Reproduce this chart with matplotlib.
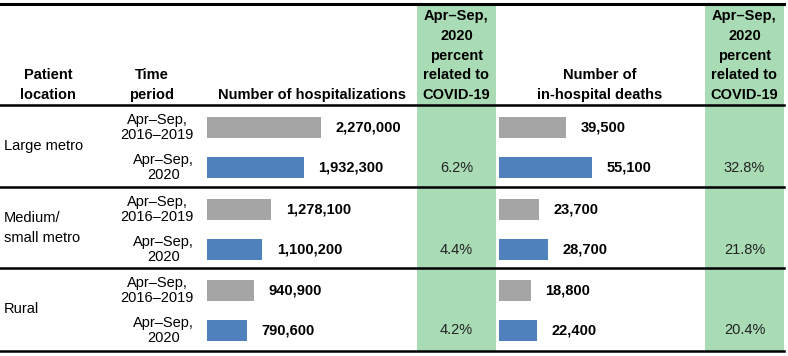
import matplotlib
matplotlib.use("Agg")
from matplotlib import pyplot as plt
from matplotlib.patches import Rectangle

plt.rcParams['font.family'] = ['Liberation Sans', 'DejaVu Sans']

# data
locations = ["Large metro", "Medium/\nsmall metro", "Rural"]
periods = ["Apr\u2013Sep,\n2016\u20132019", "Apr\u2013Sep,\n2020"]
hosp_base = [2270000, 1278100, 940900]
hosp_2020 = [1932300, 1100200, 790600]
deaths_base = [39500, 23700, 18800]
deaths_2020 = [55100, 28700, 22400]
pct_hosp = ["6.2%", "4.4%", "4.2%"]
pct_deaths = ["32.8%", "21.8%", "20.4%"]

GRAY = "#A5A5A5"
BLUE = "#4F81BD"
GREEN = "#A9DCB5"
FS = 10.5

W, H = 788, 356
fig = plt.figure(figsize=(W / 100, H / 100), dpi=100)

# background axes in pixel coordinates for the table frame
bg = fig.add_axes([0, 0, 1, 1])
bg.set_xlim(0, W)
bg.set_ylim(H, 0)
bg.axis("off")

row_tops = [105, 187, 268]
row_bot = 351

# green columns
for x0, x1 in [(417, 496), (705, 784)]:
    bg.add_patch(Rectangle((x0, 5), x1 - x0, row_bot - 5, color=GREEN, lw=0, zorder=0))

# rules
bg.plot([0, 784], [4, 4], color="black", lw=2.2, zorder=3)
for y in row_tops + [row_bot]:
    bg.plot([0, 784], [y, y], color="black", lw=1.8, zorder=3)

# headers
hdr = dict(fontsize=FS, fontweight="bold", ha="center", va="bottom", linespacing=1.52)
bg.text(48, 102, "Patient\nlocation", **hdr)
bg.text(152, 102, "Time\nperiod", **hdr)
bg.text(312, 102, "Number of hospitalizations", **hdr)
bg.text(600, 102, "Number of\nin-hospital deaths", **hdr)
green_hdr = "Apr\u2013Sep,\n2020\npercent\nrelated to\nCOVID-19"
bg.text(456.5, 102, green_hdr, **hdr)
bg.text(744.5, 102, green_hdr, **hdr)

# row labels, period labels, percents
for i, top in enumerate(row_tops):
    bg.text(4, top + 41, locations[i], fontsize=FS, ha="left", va="center", linespacing=1.5)
    for j, yoff in enumerate([22.5, 62.5]):
        bg.text(194, top + yoff, periods[j], fontsize=FS, ha="right", va="center",
                multialignment="center", linespacing=1.15)
    bg.text(456.5, top + 62.5, pct_hosp[i], fontsize=FS, ha="center", va="center", color="#222222")
    bg.text(744.5, top + 62.5, pct_deaths[i], fontsize=FS, ha="center", va="center", color="#222222")


def bar_panel(x0, x1, xmax, base, cur):
    ax = fig.add_axes([x0 / W, 1 - row_bot / H, (x1 - x0) / W, (row_bot - row_tops[0]) / H])
    ax.set_xlim(0, xmax)
    ax.set_ylim(row_bot - row_tops[0], 0)
    ax.axis("off")
    ax.patch.set_alpha(0)
    for i, top in enumerate(row_tops):
        t = top - row_tops[0]
        for val, yoff, col in [(base[i], 22.5, GRAY), (cur[i], 62.5, BLUE)]:
            ax.barh(t + yoff, val, height=21, color=col, left=0)
            ax.annotate(f"{val:,}", (val, t + yoff), xytext=(10.5, 0), textcoords="offset points",
                        fontsize=FS, fontweight="bold", ha="left", va="center")
    return ax


bar_panel(207, 417, 210 / 114 * 2270000, hosp_base, hosp_2020)
bar_panel(499, 705, 206 / 67 * 39500, deaths_base, deaths_2020)

plt.savefig("out.png", dpi=100)
